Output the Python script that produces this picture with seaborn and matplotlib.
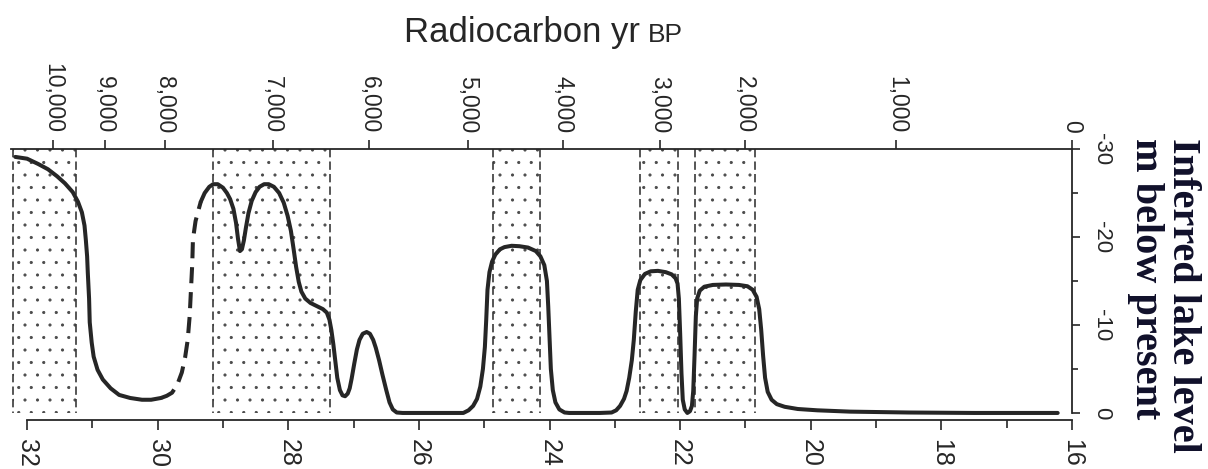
import numpy as np
import pandas as pd
import matplotlib
matplotlib.use("Agg")
import matplotlib.pyplot as plt
import matplotlib.hatch as mhatch
import seaborn as sns

# ---- data ----
# solid curve, oldest part
depth_a = [32.18, 32.00, 31.83, 31.68, 31.54, 31.42, 31.30, 31.22, 31.16, 31.12, 31.10, 31.08,
           31.07, 31.05, 31.04, 31.01, 30.98, 30.92, 30.84, 30.72, 30.59, 30.42, 30.24, 30.10, 29.95]
level_a = [-29.1, -28.9, -28.3, -27.7, -26.9, -26.1, -25.1, -24.0, -22.8, -21.3, -19.7, -17.8,
           -16.0, -13.0, -10.3, -8.0, -6.4, -4.9, -3.8, -2.8, -2.05, -1.7, -1.5, -1.5, -1.7]
# dashed (inferred) part
depth_d = [29.95, 29.86, 29.78, 29.70, 29.63, 29.58, 29.54, 29.51, 29.49, 29.47, 29.46, 29.42, 29.37, 29.34]
level_d = [-1.7, -1.95, -2.3, -3.2, -4.6, -6.3, -8.3, -11.0, -14.0, -17.0, -19.7, -21.8, -23.2, -24.0]
# solid curve, younger part
depth_b = [29.34, 29.28, 29.21, 29.15, 29.08, 29.00, 28.94, 28.89, 28.84, 28.80, 28.77, 28.74,
           28.71, 28.68, 28.65, 28.61, 28.56, 28.50, 28.44, 28.37, 28.30, 28.22, 28.14, 28.07,
           28.01, 27.96, 27.92, 27.88, 27.84, 27.80, 27.74, 27.66, 27.55, 27.47, 27.41, 27.37,
           27.34, 27.31, 27.28, 27.25, 27.21, 27.17, 27.13, 27.09, 27.06, 27.03, 26.99, 26.95,
           26.91, 26.86, 26.80, 26.75, 26.70, 26.66, 26.61, 26.56, 26.50, 26.45, 26.40, 26.34,
           26.25, 25.32, 25.24, 25.17, 25.11, 25.06, 25.02, 24.99, 24.97, 24.95, 24.92, 24.88,
           24.83, 24.76, 24.69, 24.58, 24.46, 24.33, 24.21, 24.14, 24.08, 24.04, 24.02, 24.00,
           23.98, 23.95, 23.91, 23.85, 23.77, 23.70, 23.23, 23.05, 22.98, 22.92, 22.86, 22.82,
           22.78, 22.74, 22.71, 22.68, 22.65, 22.61, 22.54, 22.45, 22.34, 22.22, 22.13, 22.07,
           22.04, 22.02, 22.00, 21.98, 21.96, 21.93, 21.89, 21.85, 21.82, 21.80, 21.78, 21.76,
           21.74, 21.70, 21.63, 21.50, 21.30, 21.10, 20.97, 20.89, 20.83, 20.79, 20.76, 20.73,
           20.70, 20.66, 20.60, 20.52, 20.40, 20.20, 19.90, 19.40, 18.50, 17.50, 16.22]
level_b = [-24.0, -25.0, -25.7, -26.0, -26.0, -25.6, -25.0, -24.3, -23.2, -21.6, -19.8, -18.4,
           -18.6, -19.6, -21.0, -22.7, -24.1, -25.1, -25.7, -26.0, -26.0, -25.7, -25.0, -23.9,
           -22.4, -20.7, -18.7, -16.6, -14.9, -13.8, -13.0, -12.5, -12.1, -11.8, -11.4, -10.6,
           -9.4, -7.8, -5.9, -4.0, -2.6, -2.0, -1.9, -2.2, -2.8, -3.9, -5.6, -7.2,
           -8.3, -9.0, -9.2, -9.0, -8.3, -7.4, -6.0, -4.4, -2.6, -1.2, -0.4, -0.05,
           0.0, 0.0, -0.3, -0.8, -1.6, -3.0, -5.0, -7.5, -10.5, -14.0, -16.0, -17.2,
           -18.0, -18.6, -18.85, -19.0, -18.95, -18.8, -18.4, -17.8, -16.8, -15.0, -12.1, -8.5,
           -5.0, -2.6, -1.2, -0.4, -0.05, 0.0, 0.0, -0.05, -0.3, -0.8, -1.6, -2.5,
           -4.0, -6.0, -8.3, -11.5, -14.0, -15.1, -15.8, -16.1, -16.15, -16.0, -15.75, -15.3,
           -14.7, -13.0, -9.0, -4.5, -1.5, -0.4, 0.0, -0.2, -0.8, -2.5, -6.5, -11.0,
           -13.0, -13.9, -14.35, -14.55, -14.6, -14.55, -14.4, -14.0, -13.2, -11.8, -9.5, -6.5,
           -4.0, -2.4, -1.5, -1.0, -0.7, -0.45, -0.3, -0.15, -0.05, 0.0, 0.0]

# stippled intervals
band_lo = [32.21, 29.15, 24.87, 22.62, 21.78]
band_hi = [31.25, 27.36, 24.15, 22.03, 20.86]

bottom_ticks = [32, 30, 28, 26, 24, 22, 20, 18, 16]
bottom_minor = [31, 29, 27, 25, 23, 21, 19, 17]
level_ticks = [-30, -20, -10, 0]
level_minor = [-25, -15, -5]
rc_labels = ["10,000", "9,000", "8,000", "7,000", "6,000", "5,000", "4,000", "3,000", "2,000", "1,000", "0"]
rc_pos = [31.60, 30.81, 29.89, 28.24, 26.76, 25.25, 23.80, 22.31, 21.01, 18.69, 16.0]


# sparser stipple dots for the "." hatch (row count must be even)
class _Stipple(mhatch.Circles):
    size = 0.09
    filled = True

    def __init__(self, hatch, density):
        self.num_rows = hatch.count(".") * 8
        super().__init__(hatch, density)


mhatch._hatch_types = [(_Stipple if h is mhatch.SmallFilledCircles else h)
                       for h in mhatch._hatch_types]

# ---- style ----
sns.set_theme(style="white")
plt.rcParams["font.family"] = ["Liberation Sans", "DejaVu Sans"]
plt.rcParams["axes.unicode_minus"] = False
plt.rcParams["hatch.color"] = "#4a4a4a"
plt.rcParams["hatch.linewidth"] = 0.6

ink = "#262626"
fig = plt.figure(figsize=(12.08, 4.69), dpi=100)
ax = fig.add_axes([0.00886, 0.1045, 0.8786, 0.5778])
ax.set_facecolor("white")

for lo, hi in zip(band_lo, band_hi):
    ax.fill_between([lo, hi], -30, 0, facecolor="white", edgecolor="#4a4a4a",
                    hatch=".", linewidth=0, zorder=1)
    ax.vlines([lo, hi], -30, 0, colors="#3a3a3a", linestyles=(0, (5, 2.5)),
              linewidth=1.2, zorder=2)

df_a = pd.DataFrame({"depth": depth_a, "level": level_a})
df_d = pd.DataFrame({"depth": depth_d, "level": level_d})
df_b = pd.DataFrame({"depth": depth_b, "level": level_b})
kw = dict(x="depth", y="level", sort=False, estimator=None, color=ink, linewidth=2.9, ax=ax)
sns.lineplot(data=df_a, solid_capstyle="round", solid_joinstyle="round", zorder=3, **kw)
sns.lineplot(data=df_d, linestyle=(0, (4, 2.2)), zorder=3, **kw)
sns.lineplot(data=df_b, solid_capstyle="round", solid_joinstyle="round", zorder=3, **kw)

ax.set_xlim(32.25, 16)
ax.set_ylim(0.8, -30)
ax.set_xlabel("")
ax.set_ylabel("")

for s in ["left", "top"]:
    ax.spines[s].set_visible(False)
for s in ["bottom", "right"]:
    ax.spines[s].set_color(ink)
    ax.spines[s].set_linewidth(1.3)
ax.spines["bottom"].set_bounds(32, 16)
ax.spines["right"].set_bounds(-30, 0)

ax.set_xticks(bottom_ticks)
ax.set_xticks(bottom_minor, minor=True)
ax.set_xticklabels([str(t) for t in bottom_ticks])
ax.tick_params(axis="x", which="both", bottom=True, top=False, direction="out",
               color=ink, width=1.2)
ax.tick_params(axis="x", which="major", length=7, pad=7, labelsize=18,
               labelrotation=270, labelcolor=ink)
ax.tick_params(axis="x", which="minor", length=6)

ax.yaxis.tick_right()
ax.set_yticks(level_ticks)
ax.set_yticks(level_minor, minor=True)
ax.set_yticklabels([str(t) for t in level_ticks])
ax.tick_params(axis="y", which="both", right=True, left=False, direction="out",
               color=ink, width=1.2)
ax.tick_params(axis="y", which="major", length=6, pad=8, labelsize=16,
               labelrotation=270, labelcolor=ink)
ax.tick_params(axis="y", which="minor", length=4.5)
for lab in ax.get_yticklabels():
    lab.set_verticalalignment("center")

ax2 = ax.twiny()
ax2.set_xlim(ax.get_xlim())
ax2.set_xticks(rc_pos)
ax2.set_xticklabels(rc_labels)
for s in ["left", "right", "bottom"]:
    ax2.spines[s].set_visible(False)
ax2.spines["top"].set_color(ink)
ax2.spines["top"].set_linewidth(1.3)
ax2.tick_params(axis="x", which="major", top=True, bottom=False, direction="out",
                length=6.5, width=1.2, color=ink, pad=5, labelsize=16.5,
                labelrotation=270, labelcolor=ink)
ax2.set_xlabel("")

t = fig.text(404 / 1208, 1 - 42 / 469, "Radiocarbon yr", fontsize=25, ha="left",
             va="baseline", color=ink)
fig.canvas.draw()
ax2.annotate("BP", xy=(1, 0), xycoords=t, xytext=(6, 5.3), textcoords="offset points",
             fontsize=19, ha="left", va="baseline", color=ink)

fig.text(1164 / 1208, 1 - 138 / 469, "Inferred lake level\nm below present",
         rotation=270, ha="center", va="top", multialignment="left",
         fontsize=29, fontweight="bold", family=["Liberation Serif", "DejaVu Serif"],
         linespacing=1.0, color="#10102a")

fig.savefig("out.png", dpi=100, facecolor="white")
